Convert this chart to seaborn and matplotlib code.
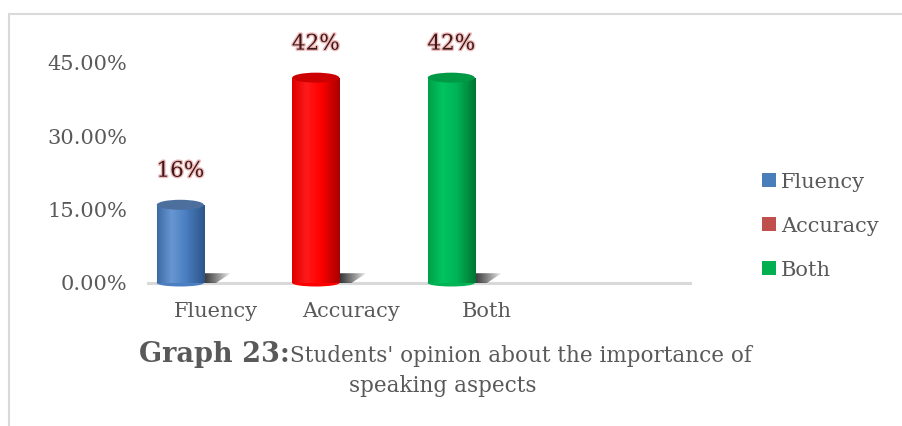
import numpy as np
import pandas as pd
import seaborn as sns
import matplotlib
matplotlib.use("Agg")
import matplotlib.pyplot as plt
from matplotlib.patches import Ellipse, Polygon, Patch
from matplotlib.colors import LinearSegmentedColormap
from matplotlib.lines import Line2D
from matplotlib import patheffects as pe

# ---- data -------------------------------------------------------------
aspects = ["Fluency", "Accuracy", "Both"]
shares = [16, 42, 42]                 # percent of students
value_labels = ["16%", "42%", "42%"]
y_ticks = [0, 15, 30, 45]
title_bold = "Graph 23:"
title_rest = "Students' opinion about the importance of"
title_line2 = "speaking aspects"

# ---- styling ------------------------------------------------------------
# (left edge, highlight, body, right edge, top cap)
shades = {
    "Fluency": ("#3d6aa3", "#6896d2", "#4a7fc2", "#2d5589", "#4d6f9e"),
    "Accuracy": ("#dd0000", "#ff1a1a", "#ff0000", "#a80000", "#cc0000"),
    "Both": ("#00a049", "#00c460", "#00b455", "#007533", "#009a45"),
}
legend_colors = {"Fluency": "#4a7ebb", "Accuracy": "#c0504d", "Both": "#00b050"}
text_gray = "#595959"
serif = ["DejaVu Serif"]

sns.set_theme(style="white")
plt.rcParams["font.family"] = serif

fig = plt.figure(figsize=(9.03, 4.26), dpi=100)
ax = fig.add_axes([148 / 903, 1 - 283 / 426, 542 / 903, 220 / 426])

df = pd.DataFrame({"aspect": aspects, "share": shares})
order = aspects + [" "]  # an empty slot keeps the floor running to the right
sns.barplot(data=df, x="aspect", y="share", hue="aspect", order=order,
            hue_order=aspects, palette={a: shades[a][2] for a in aspects},
            width=0.347, legend=False, ax=ax, errorbar=None, saturation=1)

ax.set_xlim(-0.5, 3.5)
ax.set_ylim(0, 45)

# pixel -> data conversions for the cylinder caps
px_y = 45 / 220.0
cap_h = 10 * px_y
shift = -0.262

bars = [p for p in ax.patches if np.isfinite(p.get_height()) and p.get_height() > 0]
bars.sort(key=lambda p: p.get_x())

for patch, name, lab in zip(bars, aspects, value_labels):
    patch.set_x(patch.get_x() + shift)
    patch.set_edgecolor("none")
    x0 = patch.get_x()
    w = patch.get_width()
    h = patch.get_height()
    x1 = x0 + w
    left, hi, mid, right, top = shades[name]
    cmap = LinearSegmentedColormap.from_list(
        name, [(0, left), (0.3, hi), (0.6, mid), (1.0, right)])
    grad = np.linspace(0, 1, 128)[None, :]

    # floor shadow to the right of the base
    shadow = Polygon([(x1 - 0.02, 0), (x1 + 0.09, 0), (x1 + 0.2, 2.0), (x1 - 0.02, 2.0)],
                     closed=True, facecolor="none", edgecolor="none", transform=ax.transData)
    ax.add_patch(shadow)
    sh = np.zeros((1, 64, 4))
    sh[..., :3] = 0.15
    sh[..., 3] = np.linspace(1.0, 0.0, 64) ** 0.8
    im = ax.imshow(sh, extent=[x1 - 0.02, x1 + 0.2, 0, 2.0], aspect="auto",
                   zorder=1.5, interpolation="bilinear")
    im.set_clip_path(shadow)

    # cylinder body and rounded bottom
    patch.set_zorder(2)
    im = ax.imshow(grad, cmap=cmap, extent=[x0, x1, 0, h], aspect="auto",
                   zorder=2.1, interpolation="bilinear")
    im.set_clip_path(patch)
    bottom = Ellipse((x0 + w / 2, 0), w, cap_h * 0.7, facecolor=mid, edgecolor="none",
                     zorder=2.05, clip_on=False)
    ax.add_patch(bottom)
    im = ax.imshow(grad, cmap=cmap, extent=[x0, x1, -cap_h / 2, 0], aspect="auto",
                   zorder=2.06, interpolation="bilinear")
    im.set_clip_path(bottom)

    # top cap
    ax.add_patch(Ellipse((x0 + w / 2, h), w, cap_h, facecolor=top,
                         edgecolor="none", zorder=2.2, clip_on=False))

    # value label
    ax.annotate(lab, xy=(x0 + w / 2, h), xytext=(0, 24.5), textcoords="offset points",
                ha="center", va="center", fontsize=15.5, color="#3f1717",
                fontweight="medium",
                path_effects=[pe.withStroke(linewidth=2, foreground="#f0bdbd")],
                annotation_clip=False)

ax.set_xlim(-0.5, 3.5)
ax.set_ylim(0, 45)
ax.set_aspect("auto")

# axes styling
ax.set_yticks(y_ticks)
ax.set_yticklabels([f"{v:.2f}%" for v in y_ticks])
ax.set_xticks(range(len(order)))
ax.set_xticklabels(order)
ax.set_xlabel("")
ax.set_ylabel("")
ax.tick_params(axis="both", length=0, labelsize=15, labelcolor=text_gray)
ax.tick_params(axis="y", pad=15)
ax.tick_params(axis="x", pad=14)
for side in ("top", "right", "left"):
    ax.spines[side].set_visible(False)
ax.spines["bottom"].set_color("#d9d9d9")
ax.spines["bottom"].set_linewidth(2.2)
ax.spines["bottom"].set_zorder(1)
ax.grid(False)

# legend
handles = [Patch(facecolor=legend_colors[a], edgecolor="none") for a in aspects]
leg = fig.legend(handles, aspects, loc="center left",
                 bbox_to_anchor=(762 / 903, 1 - 226 / 426), frameon=False,
                 fontsize=15, handlelength=0.65, handleheight=0.65,
                 handletextpad=0.25, labelspacing=1.2, borderpad=0, borderaxespad=0)
for t in leg.get_texts():
    t.set_color(text_gray)

# caption, bold lead-in followed by the regular text
y1 = 1 - 362 / 426
t1 = fig.text(0, y1, title_bold, fontsize=19.5, fontweight="bold", color=text_gray,
              ha="left", va="baseline")
t2 = fig.text(0, y1, title_rest, fontsize=15.5, color=text_gray, ha="left", va="baseline")
r = fig.canvas.get_renderer()
w1 = t1.get_window_extent(r).width / fig.bbox.width
w2 = t2.get_window_extent(r).width / fig.bbox.width
xs = 445 / 903 - (w1 + w2) / 2
t1.set_x(xs)
t2.set_x(xs + w1)
fig.text(443 / 903, 1 - 392 / 426, title_line2, fontsize=15.5, color=text_gray,
         ha="center", va="baseline")

# outer frame (top and left)
fy = 1 - 14 / 426
fx = 9 / 903
fig.add_artist(Line2D([fx, 1], [fy, fy], color="#d9d9d9", lw=1.5, transform=fig.transFigure))
fig.add_artist(Line2D([fx, fx], [0, fy], color="#d9d9d9", lw=1.5, transform=fig.transFigure))

fig.savefig("out.png", dpi=100, facecolor="white")
